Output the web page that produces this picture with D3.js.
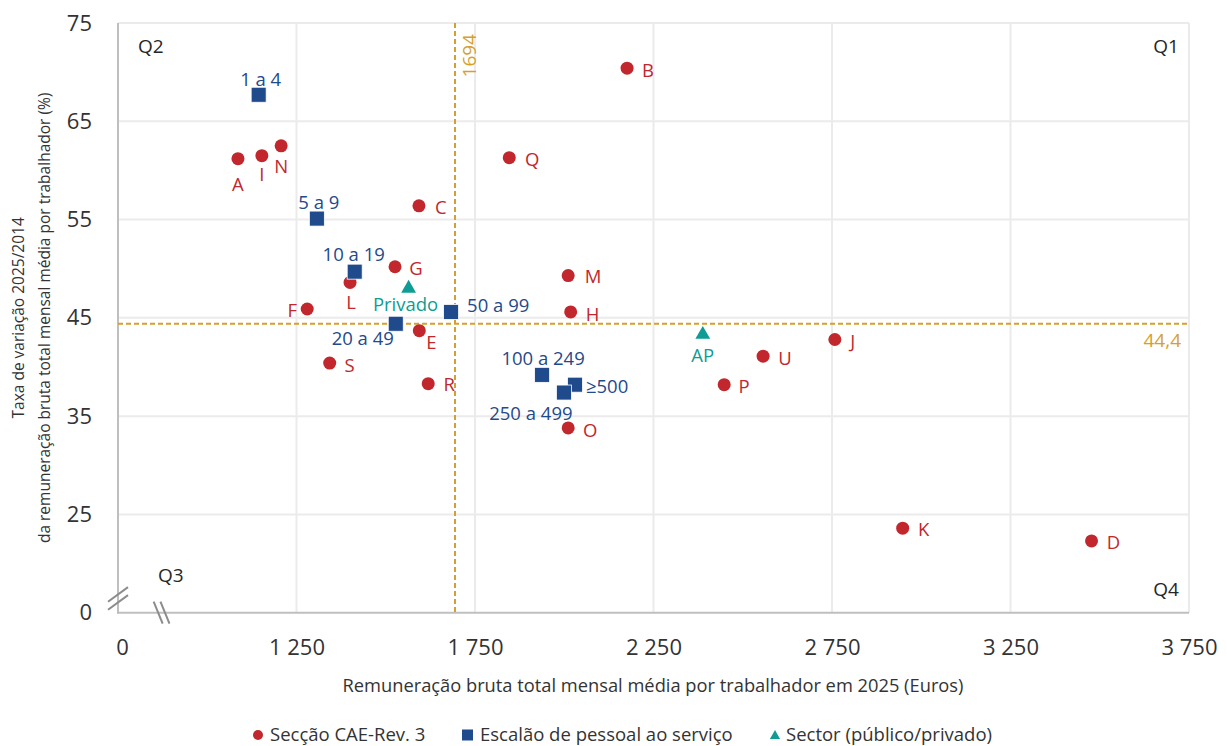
<!DOCTYPE html>
<html><head><meta charset="utf-8">
<script src="https://cdn.jsdelivr.net/npm/d3@7"></script>
<style>
body{margin:0;background:#fff;}
svg{display:block;font-family:"Open Sans",sans-serif;}
</style>
</head><body>
<svg id="c" width="1227" height="746"></svg>
<script>
// ---------- DATA ----------
const caeNames = ["A","B","C","D","E","F","G","H","I","J","K","L","M","N","O","P","Q","R","S","U"];
const caeX = [1086,2176,1593,3477,1594,1280,1526,2018,1153,2758,2948,1400,2011,1207,2011,2448,1846,1619,1343,2557];
const caeY = [61.2,70.4,56.4,22.3,43.7,45.9,50.2,45.6,61.5,42.8,23.6,48.6,49.3,62.5,33.8,38.2,61.3,38.3,40.4,41.1];

const escNames = ["1 a 4","5 a 9","10 a 19","20 a 49","50 a 99","100 a 249","≥500","250 a 499"];
const escX = [1144,1307,1413,1528,1683,1938,2030,1999];
const escY = [67.7,55.1,49.7,44.4,45.6,39.2,38.2,37.4];

const sectorNames = ["Privado","AP"];
const sectorX = [1564,2388];
const sectorY = [48.1,43.4];

const xTickValues = [750,1250,1750,2250,2750,3250,3750];
const xTickLabels = ["0","1 250","1 750","2 250","2 750","3 250","3 750"];
const yTickValues = [15,25,35,45,55,65,75];
const yTickLabels = ["0","25","35","45","55","65","75"];

const refX = 1694, refXLabel = "1694";
const refY = 44.4, refYLabel = "44,4";

const xTitle = "Remuneração bruta total mensal média por trabalhador em 2025 (Euros)";
const yTitle = ["Taxa de variação 2025/2014","da remuneração bruta total mensal média por trabalhador (%)"];
const legendLabels = ["Secção CAE-Rev. 3","Escalão de pessoal ao serviço","Sector (público/privado)"];

// ---------- STYLE / LAYOUT ----------
const RED="#C1272D", BLUE="#1F4A8B", TEAL="#0E9C94", GOLD="#D6A12B";
const GRID="#EBEBEB", AXIS="#BFBFBF", TXT="#333333";
const L=118,R=1189,T=23,B=612.7;

// label placement (dx, dy of label centre, anchor)
const labelPos = {
  A:[0,25.5,"middle"],B:[21,2,"middle"],C:[22,1.5,"middle"],D:[22,1,"middle"],E:[12,12,"middle"],
  F:[-15,1,"middle"],G:[21,2,"middle"],H:[22,2,"middle"],I:[0,19,"middle"],J:[18,1.5,"middle"],
  K:[21,1,"middle"],L:[1,20,"middle"],M:[25,1,"middle"],N:[0,20,"middle"],O:[22,2,"middle"],
  P:[20,1.5,"middle"],Q:[23,2,"middle"],R:[21,1,"middle"],S:[20,2,"middle"],U:[22,2,"middle"],
  "1 a 4":[2,-15,"middle"],"5 a 9":[2,-16,"middle"],"10 a 19":[-1,-17,"middle"],"20 a 49":[-33,15,"middle"],
  "50 a 99":[16,-7,"start"],"100 a 249":[1,-17,"middle"],"250 a 499":[-33,21,"middle"],"≥500":[11,1.5,"start"],
  "Privado":[-3,17,"middle"],"AP":[0,22,"middle"]
};

const svg = d3.select("#c");
const x = d3.scaleLinear().domain([750,3750]).range([L,R]);
const y = d3.scaleLinear().domain([15,75]).range([B,T]);

// gridlines
const g = svg.append("g");
g.selectAll(".vg").data(xTickValues.slice(1)).join("line")
  .attr("x1",d=>x(d)).attr("x2",d=>x(d)).attr("y1",y(75)).attr("y2",y(15))
  .attr("stroke",GRID).attr("stroke-width",2);
g.selectAll(".hg").data(yTickValues.slice(1)).join("line")
  .attr("x1",x(750)).attr("x2",x(3750)).attr("y1",d=>y(d)).attr("y2",d=>y(d))
  .attr("stroke",GRID).attr("stroke-width",2);

// axes
const xAxis = d3.axisBottom(x).tickValues(xTickValues).tickFormat((d,i)=>xTickLabels[i]).tickSize(0).tickPadding(27);
const yAxis = d3.axisLeft(y).tickValues(yTickValues).tickFormat((d,i)=>yTickLabels[i]).tickSize(0).tickPadding(26);
const gx = svg.append("g").attr("transform",`translate(0,${B})`).call(xAxis);
const gy = svg.append("g").attr("transform",`translate(${L},0)`).call(yAxis);
[gx,gy].forEach(a=>{
  a.select(".domain").remove();
  a.selectAll("text").attr("font-family","Open Sans").attr("font-size",22).attr("fill",TXT);
});
gx.selectAll("text").filter((d,i)=>i===0).attr("dx",4);
svg.append("line").attr("x1",L).attr("x2",L).attr("y1",T).attr("y2",B+1).attr("stroke",AXIS).attr("stroke-width",2);
svg.append("line").attr("x1",L-1).attr("x2",R).attr("y1",B).attr("y2",B).attr("stroke",AXIS).attr("stroke-width",2);

// axis break marks
const brk = svg.append("g").attr("stroke","#8c8c8c").attr("stroke-width",2);
const yb = y(16.45);
[-4,4].forEach(o=>{
  brk.append("line").attr("x1",L-10).attr("y1",yb+o+7.3).attr("x2",L+10).attr("y2",yb+o-7.3);
});
const xb = x(872);
[-3.4,3.4].forEach(o=>{
  brk.append("line").attr("x1",xb+o-4.5).attr("y1",B-11).attr("x2",xb+o+4.5).attr("y2",B+11);
});

// reference lines
svg.append("line").attr("x1",x(refX)).attr("x2",x(refX)).attr("y1",y(75)).attr("y2",y(15))
  .attr("stroke",GOLD).attr("stroke-width",2).attr("stroke-dasharray","5,3");
svg.append("line").attr("x1",x(750)).attr("x2",x(3750)).attr("y1",y(refY)).attr("y2",y(refY))
  .attr("stroke",GOLD).attr("stroke-width",2).attr("stroke-dasharray","5,3");
svg.append("text").attr("transform",`translate(${x(refX)+14},34) rotate(-90)`)
  .attr("text-anchor","end").attr("dy","0.35em").attr("font-size",19).attr("fill",GOLD).text(refXLabel);
svg.append("text").attr("x",R-8).attr("y",y(refY)+17).attr("dy","0.35em").attr("text-anchor","end")
  .attr("font-size",19).attr("fill",GOLD).text(refYLabel);

// quadrant labels
const q = [["Q2",L+20,46.5,"start"],["Q1",R-10,46.5,"end"],["Q3",L+40,575,"start"],["Q4",R-10,589,"end"]];
svg.selectAll(".q").data(q).join("text").attr("x",d=>d[1]).attr("y",d=>d[2]).attr("dy","0.35em")
  .attr("text-anchor",d=>d[3]).attr("font-size",19).attr("fill","#262626").text(d=>d[0]);

// markers
const cae = caeNames.map((n,i)=>({n,x:caeX[i],y:caeY[i]}));
const esc = escNames.map((n,i)=>({n,x:escX[i],y:escY[i]}));
const sec = sectorNames.map((n,i)=>({n,x:sectorX[i],y:sectorY[i]}));

svg.append("g").selectAll("circle").data(cae).join("circle")
  .attr("cx",d=>x(d.x)).attr("cy",d=>y(d.y)).attr("r",6.5).attr("fill",RED);
svg.append("g").selectAll("rect").data(esc).join("rect")
  .attr("x",d=>x(d.x)-7.5).attr("y",d=>y(d.y)-7.5).attr("width",15).attr("height",15)
  .attr("fill",BLUE).attr("stroke","#fff").attr("stroke-width",0.8);
svg.append("g").selectAll("path").data(sec).join("path")
  .attr("transform",d=>`translate(${x(d.x)},${y(d.y)+1})`)
  .attr("d",d3.symbol(d3.symbolTriangle,95)()).attr("fill",TEAL);

// labels
function labels(data,color){
  svg.append("g").selectAll("text").data(data).join("text")
    .attr("x",d=>x(d.x)+labelPos[d.n][0]).attr("y",d=>y(d.y)+labelPos[d.n][1])
    .attr("dy","0.36em").attr("text-anchor",d=>labelPos[d.n][2])
    .attr("font-size",18.5).attr("fill",color).text(d=>d.n);
}
labels(cae,RED); labels(esc,BLUE); labels(sec,TEAL);

// axis titles
svg.append("text").attr("x",653).attr("y",692).attr("text-anchor","middle")
  .attr("font-size",18.3).attr("fill",TXT).text(xTitle);
svg.append("text").attr("transform",`translate(24,${(T+B)/2}) rotate(-90)`).attr("text-anchor","middle")
  .attr("font-size",15.5).attr("fill",TXT).text(yTitle[0]);
svg.append("text").attr("transform",`translate(50,${(T+B)/2}) rotate(-90)`).attr("text-anchor","middle")
  .attr("font-size",15.5).attr("fill",TXT).text(yTitle[1]);

// legend
const lg = svg.append("g").attr("font-size",18.5).attr("fill",TXT);
const ly = 735;
lg.append("circle").attr("cx",258).attr("cy",ly).attr("r",5).attr("fill",RED);
lg.append("text").attr("x",270).attr("y",ly).attr("dy","0.35em").text(legendLabels[0]);
lg.append("rect").attr("x",462).attr("y",ly-5.5).attr("width",11).attr("height",11).attr("fill",BLUE);
lg.append("text").attr("x",480).attr("y",ly).attr("dy","0.35em").text(legendLabels[1]);
lg.append("path").attr("transform",`translate(775,${ly+1})`).attr("d",d3.symbol(d3.symbolTriangle,45)()).attr("fill",TEAL);
lg.append("text").attr("x",786).attr("y",ly).attr("dy","0.35em").text(legendLabels[2]);
</script>
</body></html>
